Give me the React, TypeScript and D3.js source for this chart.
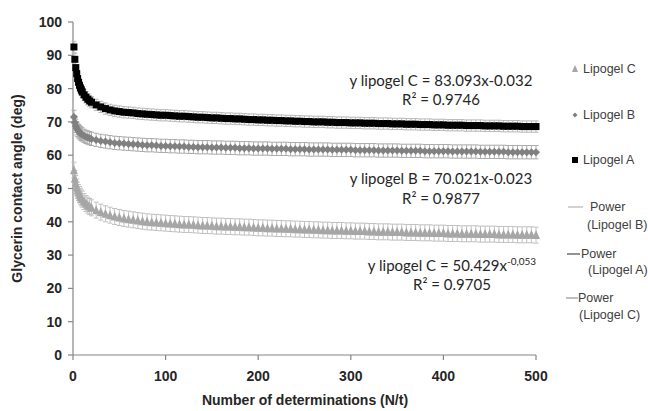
import * as d3 from "d3";

const determinations = [
  1, 2, 3, 4, 5, 6, 7, 8, 9, 10, 12, 14, 16, 18, 20,
  25, 30, 35, 40, 45, 50, 55, 60, 65, 70, 75, 80, 85, 90, 95, 100,
  105, 110, 115, 120, 125, 130, 135, 140, 145, 150,
  155, 160, 165, 170, 175, 180, 185, 190, 195, 200,
  205, 210, 215, 220, 225, 230, 235, 240, 245, 250,
  255, 260, 265, 270, 275, 280, 285, 290, 295, 300,
  305, 310, 315, 320, 325, 330, 335, 340, 345, 350,
  355, 360, 365, 370, 375, 380, 385, 390, 395, 400,
  405, 410, 415, 420, 425, 430, 435, 440, 445, 450,
  455, 460, 465, 470, 475, 480, 485, 490, 495, 500,
];

const lipogelA = [
  92.5, 88.8, 86.3, 84.5, 83.0, 81.9, 81.0, 80.2, 79.6, 79.0, 78.1, 77.4, 76.8, 76.3, 75.9,
  75.1, 74.5, 74.0, 73.6, 73.3, 73.1, 72.9, 72.8, 72.7, 72.5, 72.4, 72.3, 72.2, 72.1, 72.0, 72.0,
  71.9, 71.8, 71.7, 71.7, 71.6, 71.5, 71.4, 71.4, 71.3, 71.2,
  71.2, 71.1, 71.0, 71.0, 70.9, 70.9, 70.8, 70.7, 70.7, 70.6,
  70.6, 70.5, 70.5, 70.4, 70.4, 70.3, 70.3, 70.2, 70.2, 70.1,
  70.1, 70.0, 70.0, 70.0, 69.9, 69.9, 69.8, 69.8, 69.8, 69.7,
  69.7, 69.7, 69.6, 69.6, 69.6, 69.5, 69.5, 69.5, 69.4, 69.4,
  69.4, 69.3, 69.3, 69.3, 69.2, 69.2, 69.2, 69.1, 69.1, 69.1,
  69.0, 69.0, 69.0, 69.0, 68.9, 68.9, 68.9, 68.9, 68.8, 68.8,
  68.8, 68.8, 68.7, 68.7, 68.7, 68.7, 68.6, 68.6, 68.6, 68.6,
];

const lipogelB = [
  71.5, 69.8, 68.8, 68.1, 67.6, 67.2, 66.9, 66.6, 66.4, 66.2, 65.8, 65.5, 65.3, 65.1, 64.9,
  64.6, 64.3, 64.1, 63.9, 63.7, 63.6, 63.5, 63.4, 63.3, 63.2, 63.1, 63.0, 63.0, 62.9, 62.8, 62.8,
  62.7, 62.7, 62.6, 62.6, 62.5, 62.5, 62.4, 62.4, 62.4, 62.3,
  62.3, 62.3, 62.2, 62.2, 62.2, 62.1, 62.1, 62.1, 62.0, 62.0,
  62.0, 62.0, 61.9, 61.9, 61.9, 61.9, 61.8, 61.8, 61.8, 61.8,
  61.7, 61.7, 61.7, 61.7, 61.7, 61.6, 61.6, 61.6, 61.6, 61.6,
  61.5, 61.5, 61.5, 61.5, 61.5, 61.4, 61.4, 61.4, 61.4, 61.4,
  61.3, 61.3, 61.3, 61.3, 61.3, 61.2, 61.2, 61.2, 61.2, 61.2,
  61.2, 61.1, 61.1, 61.1, 61.1, 61.1, 61.1, 61.0, 61.0, 61.0,
  61.0, 61.0, 61.0, 60.9, 60.9, 60.9, 60.9, 60.9, 60.9, 60.9,
];

const lipogelC = [
  55.5, 53.0, 51.5, 50.4, 49.5, 48.8, 48.2, 47.7, 47.2, 46.8, 46.1, 45.5, 45.0, 44.6, 44.2,
  43.5, 42.9, 42.4, 42.0, 41.6, 41.3, 41.0, 40.8, 40.6, 40.4, 40.2, 40.0, 39.9, 39.8, 39.7, 39.6,
  39.5, 39.4, 39.3, 39.2, 39.2, 39.1, 39.0, 38.9, 38.9, 38.8,
  38.7, 38.7, 38.6, 38.6, 38.5, 38.5, 38.4, 38.4, 38.3, 38.2,
  38.2, 38.1, 38.1, 38.0, 38.0, 37.9, 37.9, 37.8, 37.8, 37.7,
  37.7, 37.6, 37.6, 37.5, 37.5, 37.4, 37.4, 37.4, 37.3, 37.3,
  37.2, 37.2, 37.2, 37.1, 37.1, 37.0, 37.0, 37.0, 36.9, 36.9,
  36.9, 36.8, 36.8, 36.8, 36.7, 36.7, 36.7, 36.6, 36.6, 36.6,
  36.5, 36.5, 36.5, 36.4, 36.4, 36.4, 36.4, 36.3, 36.3, 36.3,
  36.3, 36.2, 36.2, 36.2, 36.2, 36.1, 36.1, 36.1, 36.1, 36.0,
];

// error bar half-widths (deg)
const errA = 1.7;
const errB = 2.0;
const errC = 2.4;

const yTicks = [0, 10, 20, 30, 40, 50, 60, 70, 80, 90, 100];
const xTicks = [0, 100, 200, 300, 400, 500];

const W = 648;
const H = 411;
const x = d3.scaleLinear().domain([0, 500]).range([73, 536]);
const y = d3.scaleLinear().domain([0, 100]).range([355, 22]);

const axisColor = "#868686";
const tickFont = "'Liberation Sans', Arial, sans-serif";
const eqFont = "Lato, 'Open Sans', sans-serif";

type Series = {
  name: string;
  values: number[];
  err: number;
  color: string;
  errColor: string;
  shape: "square" | "diamond" | "triangle";
  size: number;
};

const series: Series[] = [
  { name: "Lipogel C", values: lipogelC, err: errC, color: "#a6a6a6", errColor: "#c0c0c0", shape: "triangle", size: 8 },
  { name: "Lipogel B", values: lipogelB, err: errB, color: "#808080", errColor: "#ababab", shape: "diamond", size: 8 },
  { name: "Lipogel A", values: lipogelA, err: errA, color: "#000000", errColor: "#b8b8b8", shape: "square", size: 7 },
];

function Marker({ shape, cx, cy, color, size = 6 }: { shape: string; cx: number; cy: number; color: string; size?: number }) {
  const h = size / 2;
  if (shape === "square") return <rect x={cx - h} y={cy - h} width={size} height={size} fill={color} />;
  if (shape === "diamond")
    return <path d={`M${cx},${cy - h}L${cx + h},${cy}L${cx},${cy + h}L${cx - h},${cy}Z`} fill={color} />;
  return <path d={`M${cx},${cy - h - 1}L${cx + h},${cy + h}L${cx - h},${cy + h}Z`} fill={color} />;
}

export default function App() {
  return (
    <svg width={W} height={H} style={{ position: "absolute", left: 0, top: 0, background: "#fff" }}>
      {/* y axis */}
      <line x1={x(0)} x2={x(0)} y1={y(100)} y2={y(0)} stroke={axisColor} strokeWidth={1.2} />
      {yTicks.map((t) => (
        <g key={"y" + t}>
          <line x1={x(0) - 5} x2={x(0)} y1={y(t)} y2={y(t)} stroke={axisColor} strokeWidth={1.2} />
          <text x={62} y={y(t) + 5} textAnchor="end" fontFamily={tickFont} fontWeight="bold" fontSize={14} fill="#262626">
            {t}
          </text>
        </g>
      ))}
      {/* x axis */}
      <line x1={x(0)} x2={x(500)} y1={y(0)} y2={y(0)} stroke={axisColor} strokeWidth={1.2} />
      {xTicks.map((t) => (
        <g key={"x" + t}>
          <line x1={x(t)} x2={x(t)} y1={y(0)} y2={y(0) + 5} stroke={axisColor} strokeWidth={1.2} />
          <text x={x(t)} y={381} textAnchor="middle" fontFamily={tickFont} fontWeight="bold" fontSize={14} fill="#262626">
            {t}
          </text>
        </g>
      ))}
      <text x={305} y={405} textAnchor="middle" fontFamily={tickFont} fontWeight="bold" fontSize={14} fill="#262626">
        Number of determinations (N/t)
      </text>
      <text
        transform={`translate(22,${(y(0) + y(100)) / 2}) rotate(-90)`}
        textAnchor="middle"
        fontFamily={tickFont}
        fontWeight="bold"
        fontSize={14}
        fill="#262626"
      >
        Glycerin contact angle (deg)
      </text>

      {/* series: error bars then markers */}
      {series.map((s) => (
        <g key={s.name}>
          {s.values.map((v, i) => {
            const cx = x(determinations[i]);
            return (
              <g key={i} stroke={s.errColor} strokeWidth={1}>
                <line x1={cx} x2={cx} y1={y(v + s.err)} y2={y(v - s.err)} />
                <line x1={cx - 2.5} x2={cx + 2.5} y1={y(v + s.err)} y2={y(v + s.err)} />
                <line x1={cx - 2.5} x2={cx + 2.5} y1={y(v - s.err)} y2={y(v - s.err)} />
              </g>
            );
          })}
          {s.values.map((v, i) => (
            <Marker key={"m" + i} shape={s.shape} cx={x(determinations[i])} cy={y(v)} color={s.color} size={s.size} />
          ))}
        </g>
      ))}

      {/* equations */}
      <g fontFamily={eqFont} fontSize={15} fill="#262626" textAnchor="middle">
        <text x={441} y={86}>y lipogel C = 83.093x-0.032</text>
        <text x={441} y={105}>R² = 0.9746</text>
        <text x={441} y={184}>y lipogel B = 70.021x-0.023</text>
        <text x={441} y={204}>R² = 0.9877</text>
        <text x={452} y={271}>
          y lipogel C = 50.429x<tspan dy={-6} fontSize={10}>-0,053</tspan>
        </text>
        <text x={452} y={290}>R² = 0.9705</text>
      </g>

      {/* legend */}
      <g fontFamily={tickFont} fontSize={12.5} fill="#404040">
        <Marker shape="triangle" cx={575} cy={69} color="#a6a6a6" size={6} />
        <text x={583} y={73}>Lipogel C</text>
        <Marker shape="diamond" cx={575} cy={115} color="#7f7f7f" size={5} />
        <text x={583} y={119}>Lipogel B</text>
        <Marker shape="square" cx={575} cy={160} color="#000000" size={6} />
        <text x={583} y={164}>Lipogel A</text>

        <line x1={568} x2={583} y1={207} y2={207} stroke="#a6a6a6" strokeWidth={1} />
        <text x={590} y={211}>Power</text>
        <text x={587} y={229}>(Lipogel B)</text>
        <line x1={567} x2={580} y1={254} y2={254} stroke="#262626" strokeWidth={1} />
        <text x={581} y={258}>Power</text>
        <text x={588} y={274}>(Lipogel A)</text>
        <line x1={566} x2={578} y1={298} y2={298} stroke="#7f7f7f" strokeWidth={1} />
        <text x={578} y={302}>Power</text>
        <text x={579} y={319}>(Lipogel C)</text>
      </g>
    </svg>
  );
}
